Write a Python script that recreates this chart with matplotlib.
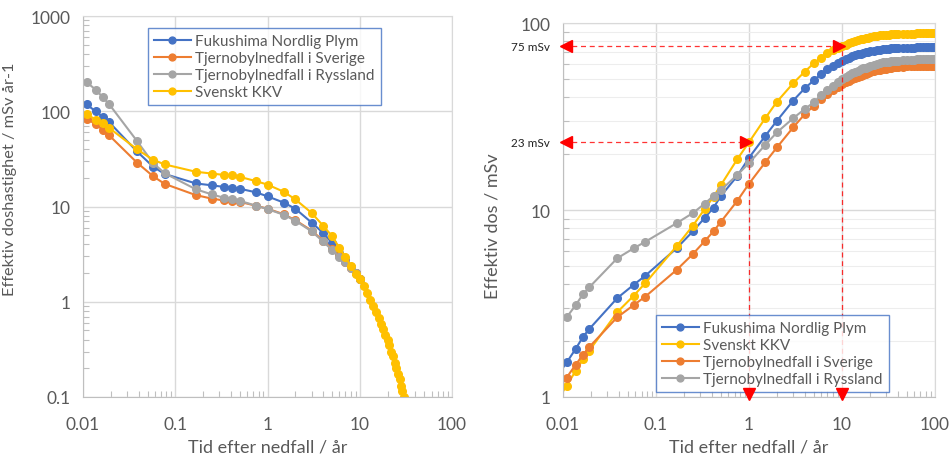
import numpy as np
import matplotlib
matplotlib.use('Agg')
import matplotlib.pyplot as plt
from matplotlib.ticker import LogLocator, FixedLocator, FixedFormatter, NullFormatter

plt.rcParams['font.family'] = ['Lato', 'DejaVu Sans']

BLUE = '#4472C4'
ORANGE = '#ED7D31'
GRAY = '#A5A5A5'
YELLOW = '#FFC000'
TXT = '#595959'
GRID = '#D9D9D9'

# time points (years): days 4-7, 14, 21, 28, months 2-6, 9, then years
t_left = [4/365, 5/365, 6/365, 7/365, 14/365, 21/365, 28/365,
          2/12, 3/12, 4/12, 5/12, 6/12, 9/12, 1, 1.5, 2, 3, 4, 5, 6, 7, 8, 9, 10]
t_left_tail = [11, 12, 13, 14, 15, 16, 17, 18, 19, 20,
               21, 22, 23, 24, 25, 26, 27, 28, 29, 30]

# dose rate, mSv/år
rate_fukushima = [118, 100, 87, 77, 38, 26.2, 22, 17.5, 16.7, 16.1, 15.7, 15.4,
                  14.1, 12.8, 11, 9.5, 6.8, 5.3, 4.15, 3.26, 2.76, 2.3, 2.0, 1.72]
rate_sverige = [84, 73, 64, 56, 29, 20.8, 17.3, 13.2, 12.1, 11.6, 11.4, 11.2,
                10.2, 9.5, 8.3, 7.2, 5.6, 4.4, 3.6, 3.0, 2.6, 2.27, 2.0, 1.72]
rate_ryssland = [202, 169, 140, 119, 49, 28.6, 22.4, 15.2, 13.4, 12.4, 11.9, 11.5,
                 10.2, 9.4, 8.2, 7.1, 5.5, 4.3, 3.5, 2.95, 2.6, 2.26, 2.0, 1.72]
rate_kkv = [93, 82, 75, 67, 40, 31, 27.7, 23.2, 22.2, 21.5, 21.2, 20.5,
            18.5, 17.0, 14.3, 11.9, 8.6, 6.3, 4.9, 3.7, 2.95, 2.35, 1.97, 1.72]
rate_kkv_tail = [1.45, 1.23, 1.04, 0.9, 0.78, 0.68, 0.59, 0.52, 0.45, 0.40,
                 0.35, 0.30, 0.27, 0.23, 0.20, 0.175, 0.155, 0.13, 0.115, 0.1]

# accumulated dose, mSv
t_right = [3/365, 4/365, 5/365, 6/365, 7/365, 14/365, 21/365, 28/365,
           2/12, 3/12, 4/12, 5/12, 6/12, 9/12, 1, 1.5, 2, 3, 4, 5, 6, 7, 8, 9, 10,
           11, 12, 13, 14, 15, 16, 17, 18, 19, 20, 22, 24, 26, 28, 30, 32, 34, 36, 38, 40,
           45, 50, 55, 60, 65, 70, 75, 80, 85, 90, 95, 100]
dose_fukushima = [1.25, 1.53, 1.81, 2.1, 2.31, 3.38, 3.98, 4.45, 6.24, 7.7, 9.06, 10.3, 11.9,
                  15.2, 19, 24.9, 30, 38.5, 44.8, 49.4, 53.3, 56.7, 59.1, 61.2, 63,
                  64.2, 65.3, 66.3, 67.1, 67.9, 68.6, 69.2, 69.7, 70.1, 70.5,
                  71.1, 71.6, 72.0, 72.4, 72.7, 72.9, 73.1, 73.3, 73.4, 73.5,
                  73.7, 73.8, 73.9, 73.9, 74.0, 74.0, 74.0, 74.0, 74.0, 74.0, 74.0, 74.0]
dose_kkv = [0.92, 1.15, 1.38, 1.59, 1.77, 2.84, 3.48, 4.06, 6.4, 8.25, 10.1, 11.8, 13.6,
            18.7, 23, 31, 37.9, 47.7, 55, 61, 65.3, 69.0, 71.5, 73.4, 75,
            76.5, 77.8, 79.0, 80.0, 80.9, 81.7, 82.4, 83.0, 83.5, 84.0,
            84.7, 85.3, 85.8, 86.2, 86.5, 86.8, 87.0, 87.2, 87.3, 87.4,
            87.6, 87.7, 87.8, 87.8, 87.9, 87.9, 88.0, 88.0, 88.0, 88.0, 88.0, 88.0]
dose_sverige = [1.05, 1.27, 1.49, 1.68, 1.85, 2.67, 3.1, 3.44, 4.78, 5.82, 6.8, 7.7, 8.65,
                11.2, 13.8, 18, 21.6, 27.7, 32.6, 36.1, 39.3, 41.7, 43.9, 45.6, 47,
                48.1, 49.1, 50.0, 50.8, 51.6, 52.3, 52.9, 53.5, 54.0, 54.4,
                55.2, 55.8, 56.3, 56.7, 57.1, 57.4, 57.7, 57.9, 58.1, 58.2,
                58.5, 58.7, 58.8, 58.9, 59.0, 59.0, 59.0, 59.0, 59.0, 59.0, 59.0, 59.0]
dose_ryssland = [2.35, 2.67, 3.1, 3.55, 3.86, 5.52, 6.24, 6.76, 8.5, 9.64, 10.8, 11.9, 12.8,
                 15.4, 17.8, 22.3, 26, 31, 34.7, 37.7, 41.2, 44, 46, 48.2, 50,
                 51.4, 52.7, 53.8, 54.8, 55.7, 56.5, 57.2, 57.8, 58.4, 58.9,
                 59.7, 60.4, 61.0, 61.5, 61.9, 62.2, 62.5, 62.7, 62.9, 63.0,
                 63.3, 63.5, 63.7, 63.8, 63.9, 64.0, 64.0, 64.0, 64.0, 64.0, 64.0, 64.0]

# marked doses: after 1 year and after 10 years
mark_t = [1, 10]
mark_dose = [23, 75]
mark_labels = ['23 mSv', '75 mSv']

fig = plt.figure(figsize=(9.51, 4.6), dpi=100)
ax1 = fig.add_axes([0.0873, 0.1348, 0.388, 0.828])
ax2 = fig.add_axes([0.592, 0.1348, 0.391, 0.813])

mk = dict(marker='o', markersize=5.5, linewidth=1.5)


def style_axes(ax, ymin, ymax, ylabels, minor_grid=False):
    ax.set_xscale('log')
    ax.set_yscale('log')
    ax.set_xlim(0.01, 100)
    ax.set_ylim(ymin, ymax)
    xt = [0.01, 0.1, 1, 10, 100]
    ax.xaxis.set_major_locator(FixedLocator(xt))
    ax.xaxis.set_major_formatter(FixedFormatter(['0.01', '0.1', '1', '10', '100']))
    yt = [float(s) for s in ylabels]
    ax.yaxis.set_major_locator(FixedLocator(yt))
    ax.yaxis.set_major_formatter(FixedFormatter(ylabels))
    ax.xaxis.set_minor_locator(LogLocator(base=10, subs=np.arange(2, 10)))
    ax.yaxis.set_minor_locator(LogLocator(base=10, subs=np.arange(2, 10)))
    ax.xaxis.set_minor_formatter(NullFormatter())
    ax.yaxis.set_minor_formatter(NullFormatter())
    ax.grid(True, which='major', color=GRID, linewidth=1)
    if minor_grid:
        ax.grid(True, which='minor', axis='y', color='#EDEDED', linewidth=0.8)
    ax.set_axisbelow(True)
    ax.tick_params(which='major', length=0, labelsize=12.5, labelcolor=TXT)
    ax.tick_params(axis='x', which='major', pad=14)
    ax.tick_params(axis='y', which='major', pad=9)
    ax.tick_params(which='minor', direction='in', length=4, color='#BFBFBF', width=0.8)
    ax.tick_params(axis='x', which='minor', top=False)
    ax.tick_params(axis='y', which='minor', right=False)
    for s in ['top', 'right']:
        ax.spines[s].set_color(GRID)
    for s in ['left', 'bottom']:
        ax.spines[s].set_color('#BFBFBF')
    ax.set_xlabel('Tid efter nedfall / år', fontsize=13, color=TXT)


legend_style = dict(fontsize=11, frameon=True, fancybox=False, edgecolor=BLUE,
                    handlelength=2.4, handletextpad=0.3, borderpad=0.4,
                    labelspacing=0.2, borderaxespad=0, labelcolor=TXT,
                    markerscale=0.9)

# dose rate panel
ax1.plot(t_left, rate_fukushima, color=BLUE, label='Fukushima Nordlig Plym', **mk)
ax1.plot(t_left, rate_sverige, color=ORANGE, label='Tjernobylnedfall i Sverige', **mk)
ax1.plot(t_left, rate_ryssland, color=GRAY, label='Tjernobylnedfall i Ryssland', **mk)
ax1.plot(t_left + t_left_tail, rate_kkv + rate_kkv_tail, color=YELLOW,
         label='Svenskt KKV', **mk)
style_axes(ax1, 0.1, 1000, ['0.1', '1', '10', '100', '1000'])
ax1.xaxis.set_label_coords(0.5, -0.108)
ax1.set_ylabel('Effektiv doshastighet / mSv år-1', fontsize=11.8, color=TXT)
ax1.yaxis.set_label_coords(-0.179, 0.575)
leg1 = ax1.legend(loc='upper left', bbox_to_anchor=(0.176, 0.969), **legend_style)
leg1.get_frame().set_linewidth(1.0)

# accumulated dose panel
ax2.plot(t_right, dose_fukushima, color=BLUE, label='Fukushima Nordlig Plym', **mk)
ax2.plot(t_right, dose_kkv, color=YELLOW, label='Svenskt KKV', **mk)
ax2.plot(t_right, dose_sverige, color=ORANGE, label='Tjernobylnedfall i Sverige', **mk)
ax2.plot(t_right, dose_ryssland, color=GRAY, label='Tjernobylnedfall i Ryssland', **mk)
style_axes(ax2, 1, 100, ['1', '10', '100'], minor_grid=True)
ax2.xaxis.set_label_coords(0.5, -0.11)
ax2.set_ylabel('Effektiv dos / mSv', fontsize=13, color=TXT)
ax2.yaxis.set_label_coords(-0.169, 0.46)
leg2 = ax2.legend(loc='lower left', bbox_to_anchor=(0.25, 0.013), **legend_style)
leg2.get_frame().set_linewidth(1.0)
leg2.set_zorder(5)

# dashed red guides with arrow heads
red = '#FF0000'
for tx, dv, lab in zip(mark_t, mark_dose, mark_labels):
    ax2.plot([0.01, tx], [dv, dv], color=red, linestyle=(0, (4, 3)), linewidth=0.9,
             alpha=0.8, zorder=6, clip_on=False)
    ax2.plot([tx, tx], [1, dv], color=red, linestyle=(0, (4, 3)), linewidth=0.9,
             alpha=0.8, zorder=3)
    ax2.plot([0.0108], [dv], marker='<', color=red, markersize=8, zorder=7,
             clip_on=False)
    ax2.plot([tx * 0.93], [dv], marker='>', color=red, markersize=8, zorder=7,
             clip_on=False)
    ax2.plot([tx], [1.04], marker='v', color=red, markersize=8, zorder=7,
             clip_on=False)
    ax2.text(0.0073, dv, lab, fontsize=8.5, color='#222222', ha='right', va='center')

fig.savefig('out.png', dpi=100)
